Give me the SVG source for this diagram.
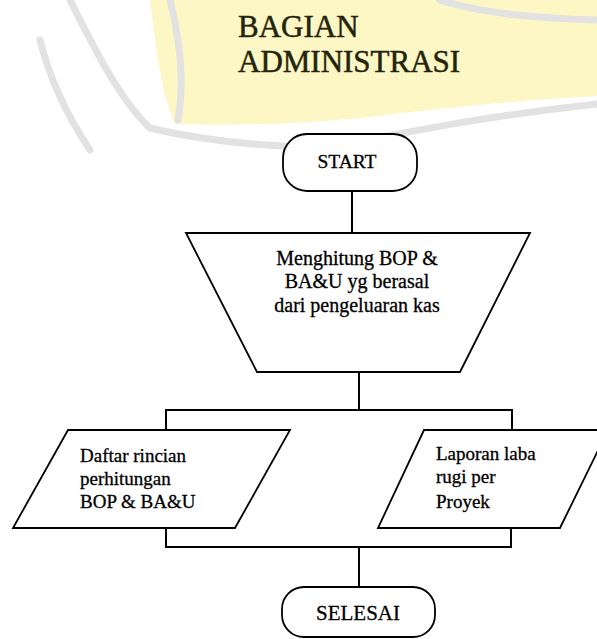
<svg xmlns="http://www.w3.org/2000/svg" width="597" height="639" viewBox="0 0 597 639">
  <style>
    .shape { fill: #ffffff; stroke: #000000; stroke-width: 1.8; }
    .line { fill: none; stroke: #000000; stroke-width: 2; }
    .t { font-family: "Liberation Serif", "Times New Roman", serif; fill: #000000; stroke: #000000; stroke-width: 0.3; }
    .title { font-family: "Liberation Serif", "Times New Roman", serif; font-size: 31px; fill: #24240c; stroke: #24240c; stroke-width: 0.5; }
    .wm { fill: none; stroke: #e2e2e2; stroke-width: 7; stroke-linecap: round; }
  </style>
  <rect width="597" height="639" fill="#ffffff"/>
  <g id="watermark">
    <path d="M150 0 L597 0 L597 96 C520 100 440 108 360 118 C300 124 240 126 175 124 C160 90 155 40 150 0 Z" fill="#fcf7c4"/>
    <path class="wm" d="M70 0 C95 50 120 100 150 128 C200 140 260 146 320 148"/>
    <path class="wm" d="M170 0 C180 40 185 80 178 120"/>
    <path class="wm" d="M335 146 C400 134 470 118 597 104"/>
    <path class="wm" d="M40 40 C50 80 70 120 90 150"/>
    <path class="wm" d="M440 0 C470 10 520 18 597 20"/>
  </g>
  <g id="title">
    <text class="title" x="238" y="37">BAGIAN</text>
    <text class="title" x="238" y="72">ADMINISTRASI</text>
  </g>
  <g id="connectors">
    <line class="line" x1="352" y1="191" x2="352" y2="233"/>
    <line class="line" x1="359" y1="372" x2="359" y2="410"/>
    <polyline class="line" points="166,430 166,410 512,410 512,430"/>
    <polyline class="line" points="166,528 166,547 511,547 511,528"/>
    <line class="line" x1="359" y1="547" x2="359" y2="587"/>
  </g>
  <g id="start">
    <rect class="shape" x="283" y="134" width="134" height="57" rx="24"/>
    <text class="t" x="347" y="168" font-size="19.5" text-anchor="middle">START</text>
  </g>
  <g id="hitung">
    <polygon class="shape" points="186,233 530,233 460,372 257,372"/>
    <text class="t" x="357" y="265" font-size="20" text-anchor="middle">Menghitung BOP &amp;</text>
    <text class="t" x="357" y="288" font-size="20" text-anchor="middle">BA&amp;U yg berasal</text>
    <text class="t" x="357" y="312" font-size="20" text-anchor="middle">dari pengeluaran kas</text>
  </g>
  <g id="rincian">
    <polygon class="shape" points="68,430 290,430 235,528 13,528"/>
    <text class="t" x="80" y="462" font-size="19">Daftar rincian</text>
    <text class="t" x="80" y="485" font-size="19">perhitungan</text>
    <text class="t" x="80" y="508" font-size="19">BOP &amp; BA&amp;U</text>
  </g>
  <g id="laporan">
    <polygon class="shape" points="424,430 608,430 560,528 378,528"/>
    <text class="t" x="436" y="460" font-size="19">Laporan laba</text>
    <text class="t" x="436" y="483" font-size="19">rugi per</text>
    <text class="t" x="436" y="508" font-size="19">Proyek</text>
  </g>
  <g id="selesai">
    <rect class="shape" x="282" y="587" width="153" height="50" rx="22"/>
    <text class="t" x="358" y="620" font-size="21" text-anchor="middle">SELESAI</text>
  </g>
</svg>
